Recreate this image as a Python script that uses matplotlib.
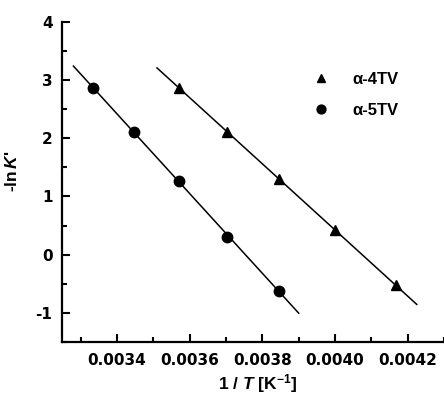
import numpy as np
import matplotlib
matplotlib.use('Agg')
import matplotlib.pyplot as plt
from matplotlib.ticker import MultipleLocator, FormatStrFormatter

matplotlib.rc('font', family='Liberation Sans', weight='bold', size=12.5)
matplotlib.rc('axes', labelweight='bold', unicode_minus=False)
matplotlib.rc('mathtext', fontset='custom', it='Liberation Sans:italic:bold',
              rm='Liberation Sans:bold', bf='Liberation Sans:bold')

# measured points, 1/T in K^-1 against -ln K'
invT_4tv = [0.003571, 0.003704, 0.003846, 0.004000, 0.004167]
lnK_4tv = [2.87, 2.10, 1.30, 0.42, -0.52]
invT_5tv = [0.003333, 0.003448, 0.003571, 0.003704, 0.003846]
lnK_5tv = [2.87, 2.10, 1.27, 0.30, -0.62]

# x-range covered by each fitted line
fit_4tv = [0.00351, 0.004225]
fit_5tv = [0.00328, 0.00390]

fig = plt.figure(figsize=(4.44, 3.99), dpi=100)
ax = fig.add_axes([0.14, 0.143, 0.86, 0.802])

for xx, yy, rng, mk, lab in [(invT_4tv, lnK_4tv, fit_4tv, '^', 'α-4TV'),
                              (invT_5tv, lnK_5tv, fit_5tv, 'o', 'α-5TV')]:
	m, b = np.polyfit(xx, yy, 1)
	xl = np.array(rng)
	ax.plot(xl, m*xl+b, color='black', lw=1.1)
	ax.plot(xx, yy, mk, color='black', ms=7.5, ls='none', label=lab)

ax.set_xlim(0.003249, 0.0043)
ax.set_ylim(-1.5, 4)
ax.xaxis.set_major_locator(MultipleLocator(0.0002))
ax.xaxis.set_minor_locator(MultipleLocator(0.0001))
ax.yaxis.set_major_locator(MultipleLocator(1))
ax.yaxis.set_minor_locator(MultipleLocator(0.5))
ax.xaxis.set_major_formatter(FormatStrFormatter('%.4f'))
ax.tick_params(which='major', direction='in', length=6, width=1.5)
ax.tick_params(which='minor', direction='in', length=3.5, width=1.5)
ax.tick_params(axis='x', pad=8)
ax.tick_params(axis='y', pad=7)
for lbl in ax.get_xticklabels() + ax.get_yticklabels():
	lbl.set_family('DejaVu Sans')
	lbl.set_fontsize(11)

for s in ['top', 'right']:
	ax.spines[s].set_visible(False)
for s in ['left', 'bottom']:
	ax.spines[s].set_linewidth(1.6)

ax.set_ylabel(r"-ln$\,\mathit{K}$'")
ax.yaxis.set_label_coords(-0.11, 0.534)
ax.set_xlabel(r'1 / $\mathit{T}$ [K$^{\mathbf{-1}}$]')
ax.xaxis.set_label_coords(0.513, -0.095)

leg = ax.legend(loc='upper right', bbox_to_anchor=(0.921, 0.89), frameon=False,
                handletextpad=0.9, labelspacing=0.95, markerscale=0.85,
                prop={'size': 12})

fig.savefig('out.png', dpi=100)
